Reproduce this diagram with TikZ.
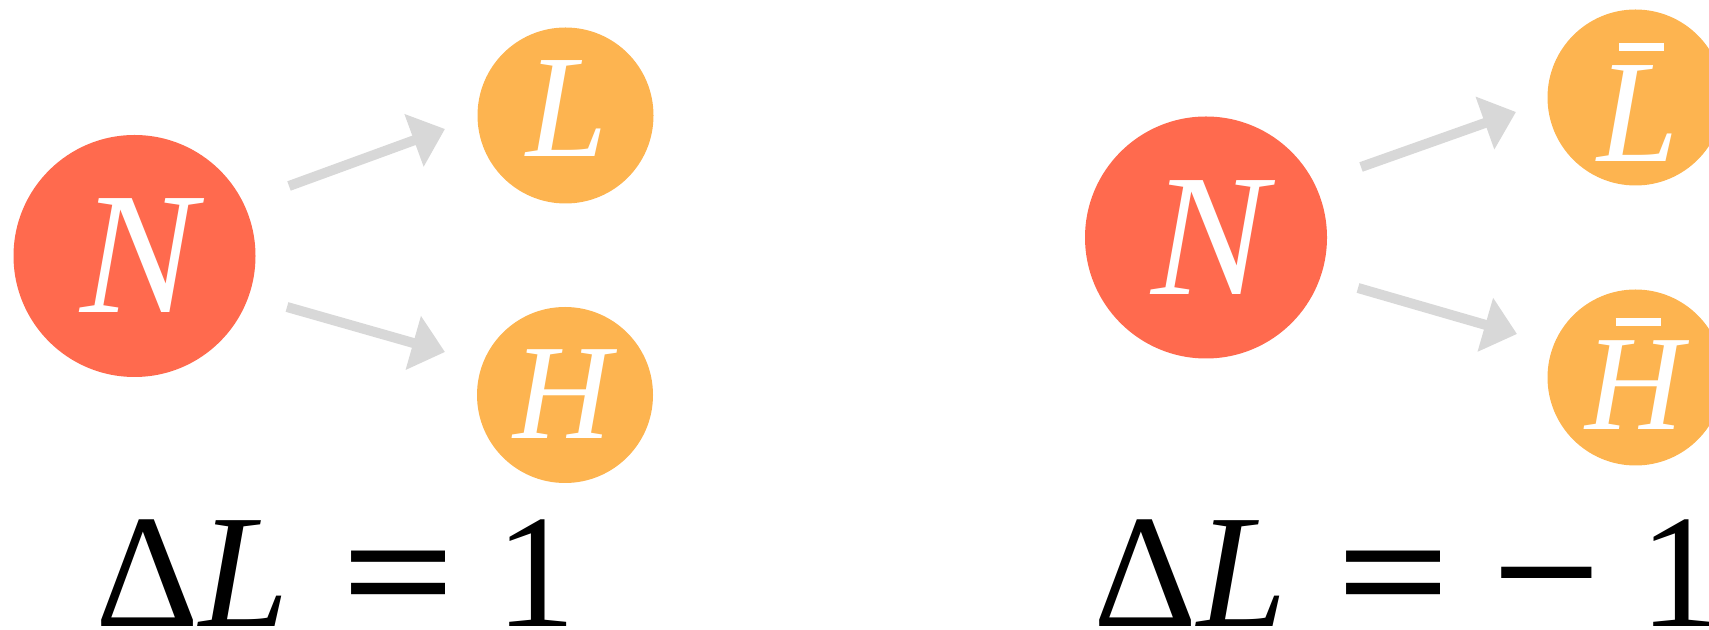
\documentclass[tikz,border=0pt]{standalone}
\usepackage{fontspec}
\usepackage{graphicx}
\setmainfont{Liberation Serif}
\usetikzlibrary{arrows.meta}
\definecolor{nred}{RGB}{255,106,78}
\definecolor{lorange}{RGB}{253,180,80}
\definecolor{agray}{RGB}{216,216,216}
\newcommand{\mybar}[2]{\leavevmode\setbox0\hbox{\itshape #1}\rlap{\hbox to \wd0{\hss\hspace{#2}\raisebox{\dimexpr\ht0+0.15cm\relax}{\rule{0.45cm}{0.08cm}}\hss}}\box0}
\newcommand{\myeq}{\scalebox{1.25}[1]{\bfseries =}}
\newcommand{\myminus}{\scalebox{1.2}[1]{\bfseries −}}
\tikzset{
  redc/.style={circle, fill=nred, minimum size=2.42cm, inner sep=0pt},
  orac/.style={circle, fill=lorange, minimum size=1.76cm, inner sep=0pt},
  lbl/.style={text=white, inner sep=0pt, anchor=base, font=\itshape},
  arr/.style={draw=agray, line width=0.1cm, -{Triangle[length=0.33cm,width=0.54cm]}},
  eq/.style={inner sep=0pt, anchor=base west, font=\fontsize{46}{50}\selectfont}
}
\begin{document}
\begin{tikzpicture}[x=1cm,y=1cm]
\useasboundingbox (0,0) rectangle (17.09,-6.30);
% left group
\node[redc] (N1) at (1.345,-2.56) {};
\node[orac] (L1) at (5.655,-1.155) {};
\node[orac] (H1) at (5.65,-3.95) {};
\node[lbl, font=\itshape\fontsize{49.5}{50}\selectfont] (tN1) at (1.39,-3.13) {N};
\node[lbl, font=\itshape\fontsize{41.7}{45}\selectfont] (tL1) at (5.67,-1.57) {L};
\node[lbl, font=\itshape\fontsize{38.6}{42}\selectfont] (tH1) at (5.62,-4.39) {H};
\coordinate (a1s) at (2.89,-1.86);
\coordinate (a1e) at (4.45,-1.29);
\coordinate (a2s) at (2.87,-3.07);
\coordinate (a2e) at (4.45,-3.52);
\draw[arr] (a1s) -- (a1e);
\draw[arr] (a2s) -- (a2e);
\node[eq] (eq1) at (0.95,-6.265) {Δ\textit{L}\hspace{0.32em}\myeq\hspace{0.24em}1};
% right group
\node[redc] (N2) at (12.06,-2.375) {};
\node[orac] (L2) at (16.355,-0.975) {};
\node[orac] (H2) at (16.355,-3.775) {};
\node[lbl, font=\itshape\fontsize{49.5}{50}\selectfont] (tN2) at (12.10,-2.95) {N};
\node[lbl, font=\itshape\fontsize{41.7}{45}\selectfont] (tL2) at (16.385,-1.62) {\mybar{L}{0.06cm}};
\node[lbl, font=\itshape\fontsize{38.6}{42}\selectfont] (tH2) at (16.34,-4.30) {\mybar{H}{0.08cm}};
\coordinate (b1s) at (13.61,-1.67);
\coordinate (b1e) at (15.16,-1.12);
\coordinate (b2s) at (13.58,-2.88);
\coordinate (b2e) at (15.17,-3.34);
\draw[arr] (b1s) -- (b1e);
\draw[arr] (b2s) -- (b2e);
\node[eq] (eq2) at (10.93,-6.265) {Δ\textit{L}\hspace{0.3em}\myeq\hspace{0.25em}\myminus\hspace{0.23em}1};
\end{tikzpicture}
\end{document}
